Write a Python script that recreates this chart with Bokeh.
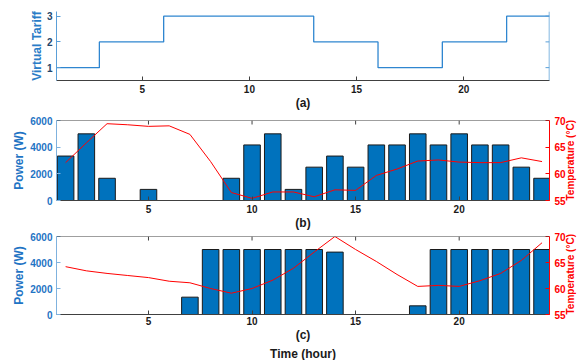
import math
from bokeh.plotting import figure
from bokeh.models import Range1d, LinearAxis, FixedTicker, Title, Span
from bokeh.layouts import column
from bokeh.embed import file_html
from bokeh.resources import INLINE

hours = list(range(1, 25))
tariff = [1, 1, 2, 2, 2, 3, 3, 3, 3, 3, 3, 3, 2, 2, 2, 1, 1, 1, 2, 2, 2, 3, 3, 3]
power_b = [3333, 5000, 1667, 0, 833, 0, 0, 0, 1667, 4167, 5000, 833,
           2500, 3333, 2500, 4167, 4167, 5000, 4167, 5000, 4167, 4167, 2500, 1667]
temp_b = [62.1, 65.8, 69.4, 69.2, 68.9, 69.0, 67.4, 62.3, 56.5, 55.4, 56.6, 56.6,
          55.7, 57.0, 56.9, 59.7, 60.9, 62.4, 62.6, 62.2, 62.1, 62.1, 63.0, 62.3]
power_c = [0, 0, 0, 0, 0, 0, 1333, 5000, 5000, 5000, 5000, 5000,
           5000, 4800, 0, 0, 0, 667, 5000, 5000, 5000, 5000, 5000, 5000]
temp_c = [64.2, 63.4, 62.9, 62.5, 62.1, 61.4, 61.1, 60.0, 59.1, 60.0, 61.6, 63.9,
          67.0, 70.0, 67.5, 65.2, 62.7, 60.4, 60.6, 60.4, 61.5, 62.9, 65.4, 68.8]
x_ticks = [5, 10, 15, 20]
tariff_ticks = [1, 2, 3]
power_ticks = [0, 2000, 4000, 6000]
temp_ticks = [55, 60, 65, 70]

FONT = "Liberation Sans"
BLUE = "#0072BD"
LBLUE = "#5a9fd8"
RED = "#FF0000"
DARK = "#404040"
W = 586


def style_axis(ax, color, tick_label_color=None, label_color=None):
    ax.axis_line_color = color
    ax.major_tick_line_color = color
    ax.major_tick_in = 4
    ax.major_tick_out = 0
    ax.minor_tick_line_color = None
    ax.major_label_text_font = FONT
    ax.major_label_text_font_style = "bold"
    ax.major_label_text_color = tick_label_color or color
    ax.major_label_text_font_size = "10px"
    ax.major_label_standoff = 4
    ax.axis_label_text_font = FONT
    ax.axis_label_text_font_style = "bold"
    ax.axis_label_text_font_size = "12px"
    ax.axis_label_text_color = label_color or color


# ---------------- panel (a)
pa = figure(width=W, height=112, x_range=Range1d(1, 24), y_range=Range1d(0.5, 3.18),
            output_backend="svg", toolbar_location=None,
            min_border_left=56, min_border_right=34, min_border_top=11, min_border_bottom=26)
pa.outline_line_color = None
pa.grid.visible = False
pa.step(hours, tariff, mode="after", line_color="#2f86d0", line_width=1.3)
style_axis(pa.xaxis[0], DARK, tick_label_color="#1a1a1a")
pa.xaxis[0].ticker = FixedTicker(ticks=x_ticks)
pa.xaxis[0].axis_label = "(a)"
pa.xaxis[0].axis_label_standoff = 0
pa.xaxis[0].axis_label_text_color = "#1a1a1a"
style_axis(pa.yaxis[0], LBLUE, tick_label_color="#24466b", label_color="#2a7cc7")
pa.yaxis[0].ticker = FixedTicker(ticks=tariff_ticks)
pa.yaxis[0].axis_label = "Virtual Tariff"
pa.yaxis[0].axis_label_standoff = 0
# right-hand axis line with inward ticks (no labels)
pa.add_layout(Span(location=24, dimension="height", line_color=LBLUE, line_width=1.5))
pa.ray(x=[24] * len(tariff_ticks), y=tariff_ticks, length=4, length_units="screen",
       angle=math.pi, line_color=LBLUE, line_width=1)


def power_panel(height, top, bottom, power, temp, label):
    p = figure(width=W, height=height, x_range=Range1d(0.56, 24.36), y_range=Range1d(0, 6000),
               output_backend="svg", toolbar_location=None,
               min_border_left=56, min_border_right=37, min_border_top=top, min_border_bottom=bottom)
    p.outline_line_color = None
    p.grid.visible = False
    p.extra_y_ranges = {"temp": Range1d(55, 70)}
    # top box line with inward ticks
    p.add_layout(Span(location=6000, dimension="width", line_color=DARK, line_width=1))
    p.ray(x=x_ticks, y=[6000] * len(x_ticks), length=4, length_units="screen",
          angle=-math.pi / 2, line_color=DARK, line_width=1)
    p.vbar(x=hours, top=power, width=0.8, bottom=0, fill_color=BLUE,
           line_color="#1a1a1a", line_width=1)
    p.line(hours, temp, y_range_name="temp", line_color=RED, line_width=1)
    style_axis(p.xaxis[0], DARK, tick_label_color="#1a1a1a")
    p.xaxis[0].ticker = FixedTicker(ticks=x_ticks)
    p.xaxis[0].axis_label = label
    p.xaxis[0].axis_label_standoff = 0
    p.xaxis[0].axis_label_text_color = "#1a1a1a"
    style_axis(p.yaxis[0], "#7fb2de", tick_label_color="#1f74c4", label_color="#1f74c4")
    p.yaxis[0].ticker = FixedTicker(ticks=power_ticks)
    p.yaxis[0].axis_label = "Power (W)"
    p.yaxis[0].axis_label_standoff = 1
    rt = LinearAxis(y_range_name="temp", ticker=FixedTicker(ticks=temp_ticks))
    style_axis(rt, RED)
    rt.major_label_standoff = 5
    rt.axis_label = "Temperature (°C)"
    rt.axis_label_text_font_size = "10px"
    rt.axis_label_standoff = 2
    try:
        rt.axis_label_align = "start"
        rt.axis_label_orientation = math.pi / 2
    except AttributeError:
        pass
    p.add_layout(rt, "right")
    return p


pb = power_panel(120, 8, 30, power_b, temp_b, "(b)")
pc = power_panel(128, 4, 42, power_c, temp_c, "(c)")
pc.xaxis[0].major_label_standoff = 2
t = Title(text="Time (hour)", align="center", text_font=FONT, text_font_style="bold",
          text_font_size="12px", text_color="#1a1a1a", standoff=0)
pc.add_layout(t, "below")

layout = column(pa, pb, pc)
open("out.html", "w").write(file_html(layout, INLINE))
